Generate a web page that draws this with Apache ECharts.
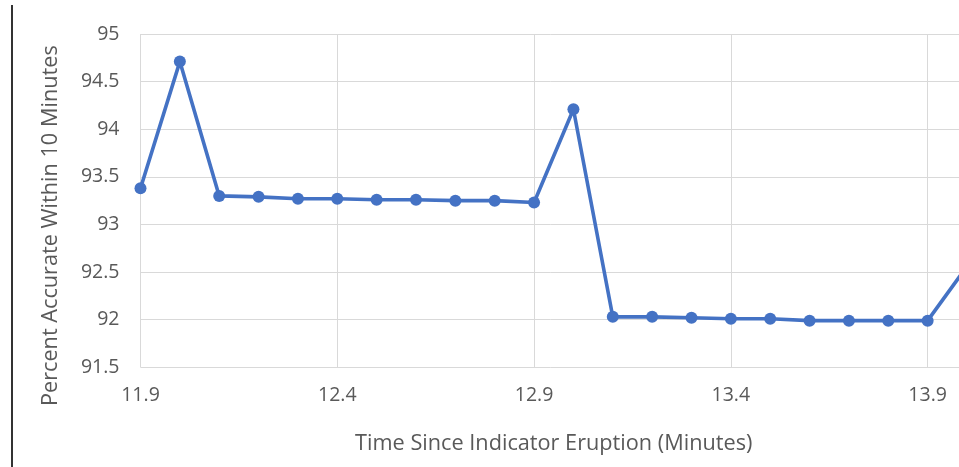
<!DOCTYPE html>
<html>
<head>
<meta charset="utf-8">
<script src="https://cdn.jsdelivr.net/npm/echarts@6/dist/echarts.min.js"></script>
<style>
  html, body { margin: 0; padding: 0; background: #ffffff; }
  #chart { width: 959px; height: 467px; }
</style>
</head>
<body>
<div id="chart"></div>
<script>
// Elapsed time since the indicator eruption, in minutes
const minutes = ['11.9', '12.0', '12.1', '12.2', '12.3', '12.4', '12.5', '12.6', '12.7', '12.8',
                 '12.9', '13.0', '13.1', '13.2', '13.3', '13.4', '13.5', '13.6', '13.7', '13.8',
                 '13.9', '14.0'];
// Share of predictions accurate within 10 minutes (%)
const percentAccurate = [93.38, 94.71, 93.30, 93.29, 93.27, 93.27, 93.26, 93.26, 93.25, 93.25,
                         93.23, 94.21, 92.03, 92.03, 92.02, 92.01, 92.01, 91.99, 91.99, 91.99,
                         91.99, 92.56];

const xTitle = 'Time Since Indicator Eruption (Minutes)';
const yTitle = 'Percent Accurate Within 10 Minutes';

const textColor = '#595959';
const gridColor = '#d9d9d9';
const lineColor = '#4472c4';
const font = '"Open Sans", Lato, sans-serif';

const chart = echarts.init(document.getElementById('chart'), null, { renderer: 'canvas' });

chart.setOption({
  animation: false,
  backgroundColor: '#ffffff',
  // the plot runs a little past the right edge of the canvas, so the last point is cut off
  grid: {
    left: 140.5, top: 34, height: 333.3, width: 826.5,
    containLabel: false, outerBoundsMode: 'none'
  },
  xAxis: {
    type: 'category',
    data: minutes,
    boundaryGap: false,
    axisLine: { show: false },
    axisTick: { show: false },
    axisLabel: { interval: 4, color: textColor, fontFamily: font, fontSize: 19.5, margin: 18 },
    splitLine: { show: true, interval: 4, lineStyle: { color: gridColor, width: 1 } },
    name: xTitle,
    nameLocation: 'middle',
    nameGap: 66,
    nameTextStyle: { color: textColor, fontFamily: font, fontSize: 21.7 }
  },
  yAxis: {
    type: 'value',
    min: 91.5,
    max: 95,
    interval: 0.5,
    axisLine: { show: false },
    axisTick: { show: false },
    axisLabel: { color: textColor, fontFamily: font, fontSize: 19.5, margin: 21 },
    splitLine: { show: true, lineStyle: { color: gridColor, width: 1 } },
    name: yTitle,
    nameLocation: 'middle',
    nameGap: 79,
    nameRotate: 90,
    nameTextStyle: { color: textColor, fontFamily: font, fontSize: 21.7, padding: [0, 50, 0, 0] }
  },
  series: [{
    type: 'line',
    data: percentAccurate,
    symbol: 'circle',
    symbolSize: 12,
    showAllSymbol: true,
    lineStyle: { color: lineColor, width: 3.6 },
    itemStyle: { color: lineColor },
    clip: false
  }],
  graphic: [{
    type: 'rect',
    shape: { x: 11, y: 5, width: 2, height: 462 },
    style: { fill: '#333333' }
  }]
});
</script>
</body>
</html>
